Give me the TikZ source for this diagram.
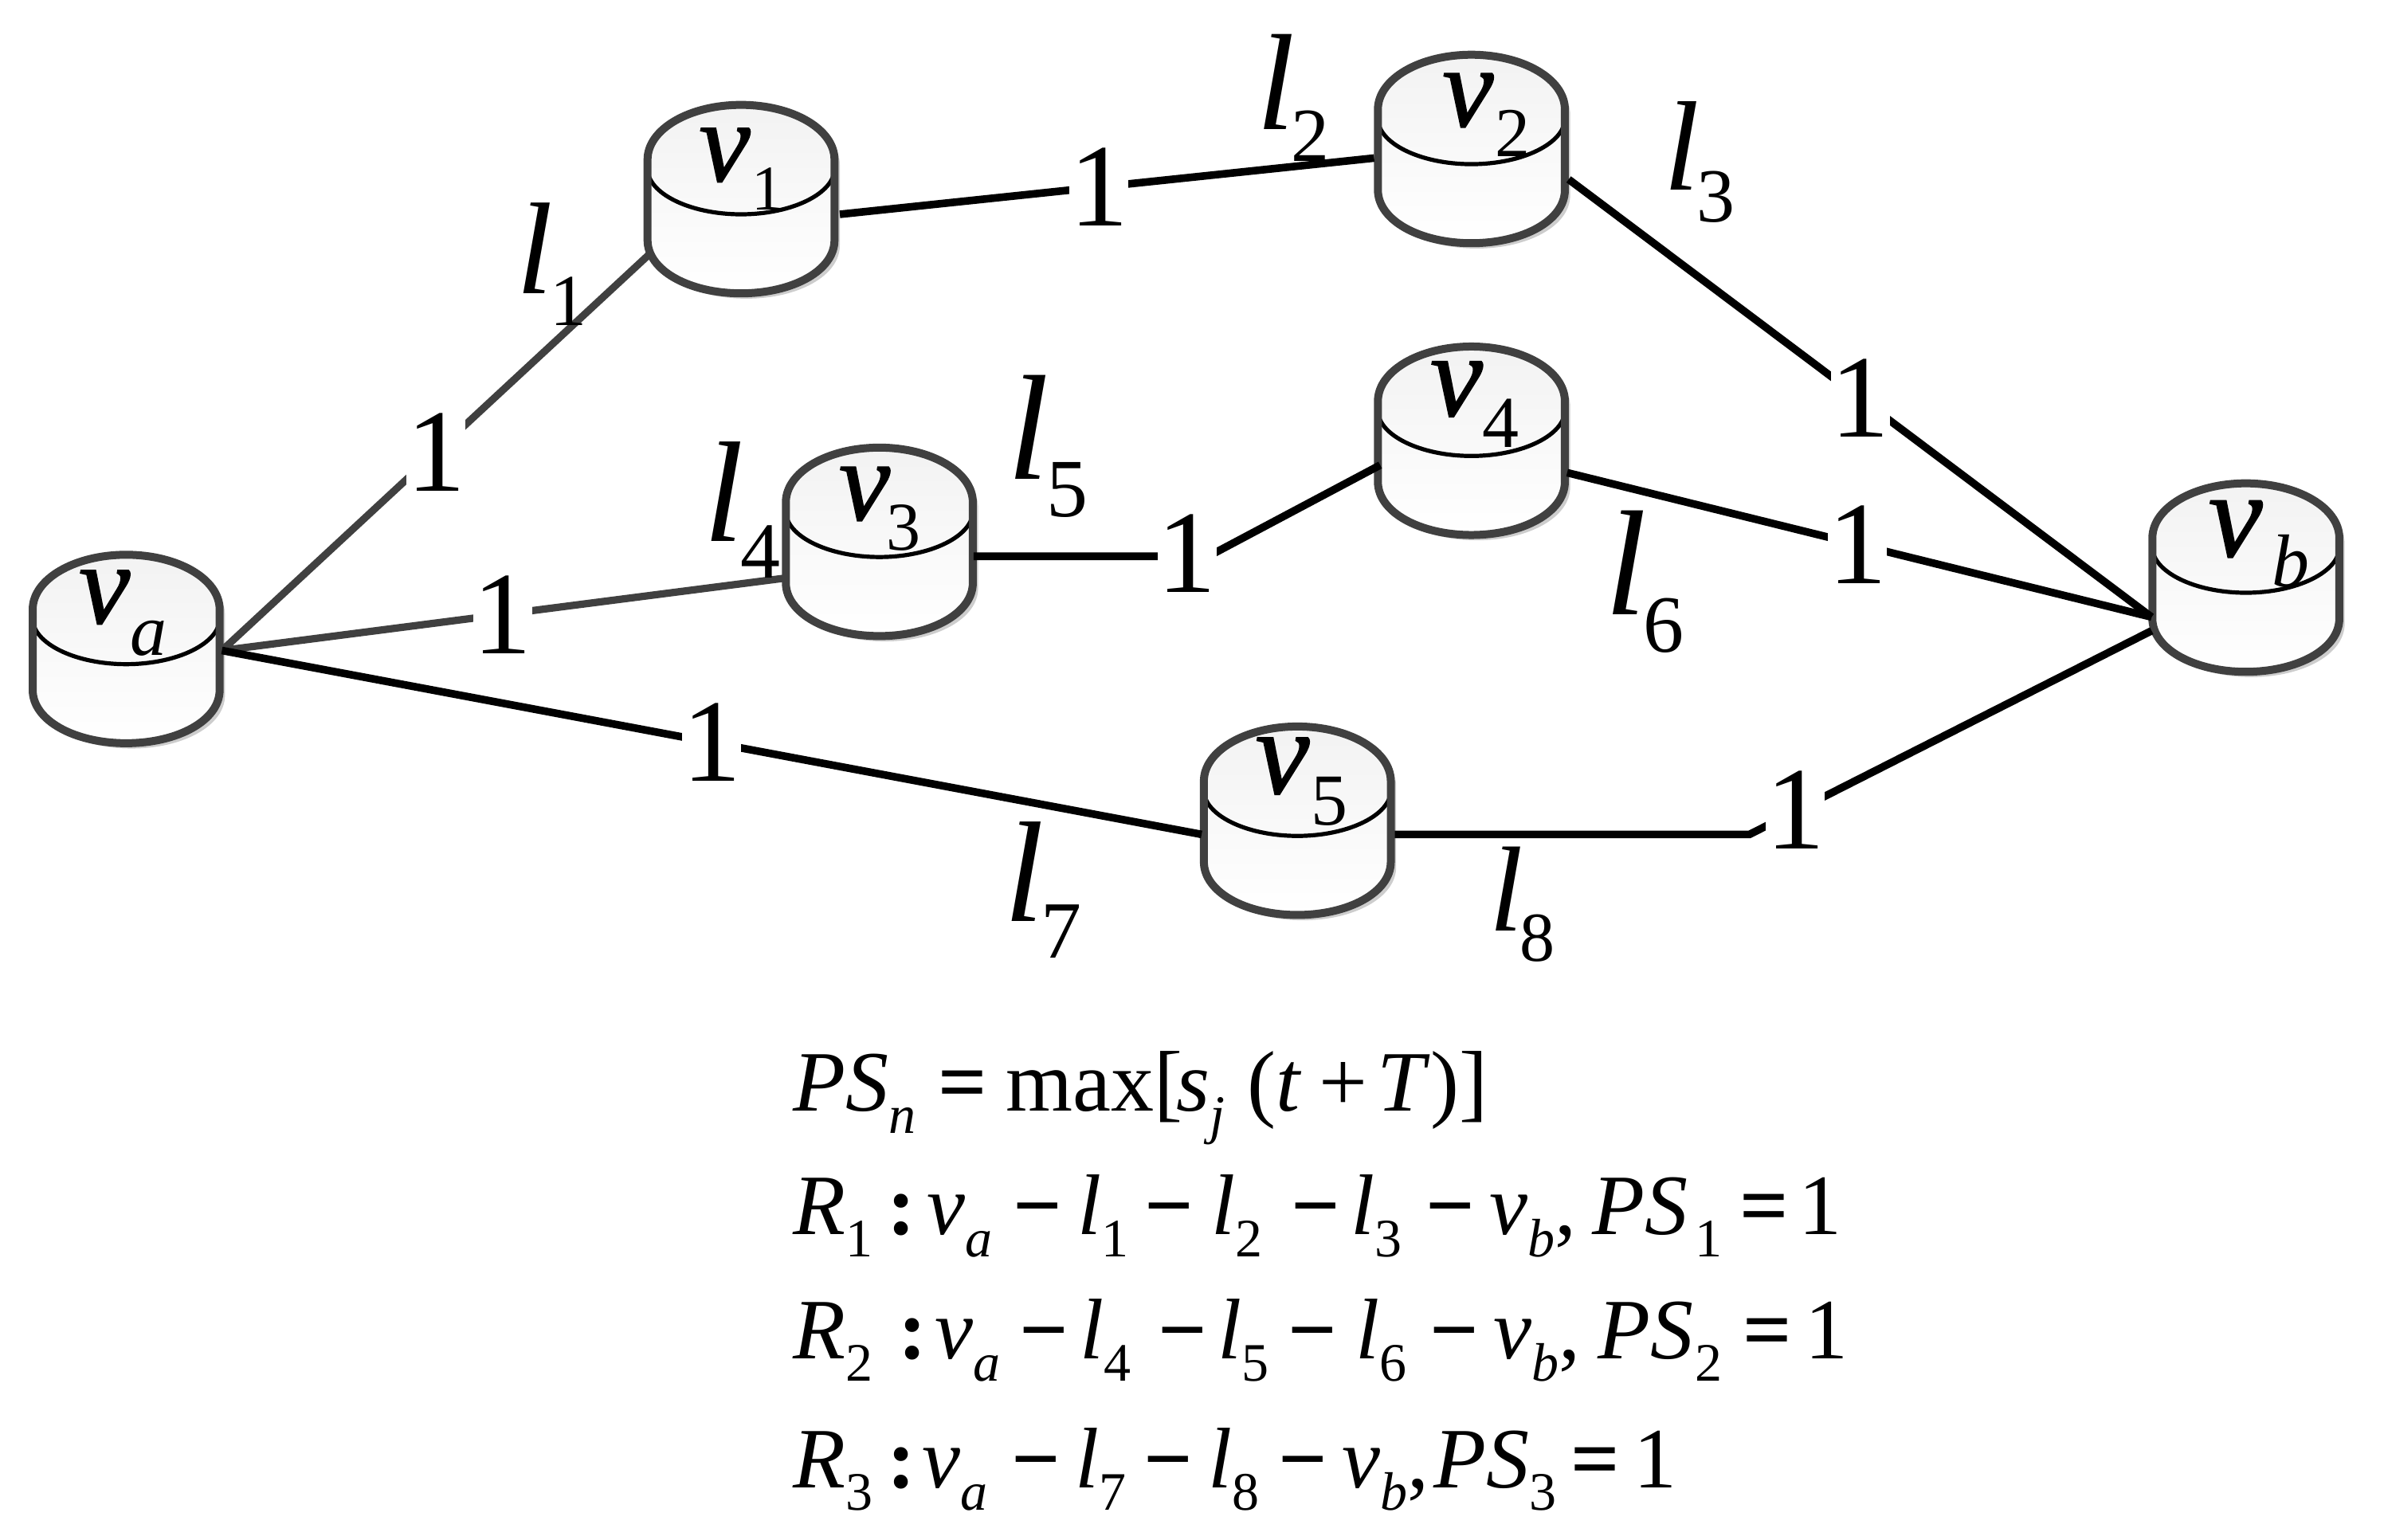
\documentclass[tikz,border=0pt]{standalone}
\usepackage{fontspec}
\setmainfont{Liberation Serif}
\newfontfamily\heavyit[FakeBold=1.2]{Liberation Serif Italic}
\usetikzlibrary{calc}
\definecolor{edgegray}{HTML}{404040}
\definecolor{shadowgray}{HTML}{CDCDCD}
\tikzset{
  cylbox/.style={rectangle,minimum width=58.7pt,minimum height=58.7pt,inner sep=0pt,draw=none,fill=none},
  link/.style={line width=2.4pt,draw=black,line join=miter},
  graylink/.style={link,draw=edgegray,line width=2.3pt},
  one/.style={fill=white,inner sep=0pt,minimum width=12pt,minimum height=26pt,font=\fontsize{37}{37}\selectfont},
  lab/.style={anchor=base west,inner sep=0pt,outer sep=0pt},
  eqline/.style={anchor=base west,inner sep=0pt,outer sep=0pt,font=\fontsize{27}{30}\selectfont}
}
\newcommand\cylpath{(-61.5,-26) .. controls (-61.5,-46) and (-34,-62) .. (0,-62) .. controls (34,-62) and (61.5,-46) .. (61.5,-26) -- (61.5,27) .. controls (61.5,47) and (34,62) .. (0,62) .. controls (-34,62) and (-61.5,47) .. (-61.5,27) -- cycle}
\newcommand\cyl[3]{%
  \fill[shadowgray,shift={(#2+3.5,#3+3.5)}] \cylpath;
  \begin{scope}[shift={(#2,#3)}]
    \shade[top color=black!5,bottom color=white] \cylpath;
    \draw[black,line width=1.3pt] (-61.5,-20) .. controls (-61.5,-4) and (-34,10) .. (0,10) .. controls (34,10) and (61.5,-4) .. (61.5,-20);
    \draw[edgegray,line width=2.5pt] \cylpath;
  \end{scope}
  \node[cylbox] (#1) at (#2,#3) {};
}
% name, x, y of base, letter size, letter, sub dx, sub drop, sub size, subscript
\newcommand\symb[9]{%
  \node[lab] (#1) at (#2,#3) {\fontsize{#4}{#4}\selectfont{\heavyit #5}\hspace{#6pt}\raisebox{-#7pt}{\fontsize{#8}{#8}\selectfont #9}};
}
\newcommand\syml[9]{%
  \node[lab] (#1) at (#2,#3) {\fontsize{#4}{#4}\selectfont\textit{#5}\hspace{#6pt}\raisebox{-#7pt}{\fontsize{#8}{#8}\selectfont #9}};
}
\newcommand\dn[1]{\raisebox{-7pt}{\fontsize{17}{17}\selectfont #1}}
\newcommand\gp[1]{\hspace{#1pt}}
\newcommand\mn{\textbf{−}}
\newcommand\eqs{\textbf{=}}
\newcommand\cln{\textbf{:}}
\begin{document}
\begin{tikzpicture}[x=0.477pt,y=-0.477pt]
\useasboundingbox (0,0) rectangle (1568.4,1012.8);
\cyl{va}{83}{427}
\cyl{v1}{487.5}{131}
\cyl{v2}{968}{98}
\cyl{v3}{578.5}{356.5}
\cyl{v4}{968}{290}
\cyl{v5}{853.5}{540}
\cyl{vb}{1477.5}{380}
\coordinate (c34) at (795,366);
\coordinate (c58) at (1151,549);
\draw[graylink] ([shift={(63,1)}]va.center) -- node[one,pos=.5] (e1) {1} ([shift={(-60,36)}]v1.center);
\draw[graylink] ([shift={(63,1)}]va.center) -- node[one,pos=.5] (e4) {1} ([shift={(-63,24)}]v3.center);
\draw[link] ([shift={(63,1)}]va.center) -- node[one,pos=.5] (e7) {1} ([shift={(-63,9)}]v5.center);
\draw[link] ([shift={(65,10)}]v1.center) -- node[one,pos=.485] (e2) {1} ([shift={(-64,6)}]v2.center);
\draw[link] ([shift={(64,20)}]v2.center) -- node[one,pos=.5] (e3) {1} ([shift={(-62,26)}]vb.center);
\draw[link] ([shift={(63,21)}]v4.center) -- node[one,pos=.497] (e6) {1} ([shift={(-62,26)}]vb.center);
\draw[link] ([shift={(62,9.5)}]v3.center) -- (c34) -- ([shift={(-60,16)}]v4.center);
\draw[link] ([shift={(64,9)}]v5.center) -- (c58) -- ([shift={(-62,35)}]vb.center);
\node[one] (e5) at (781,364) {1};
\node[one] (e8) at (1181,533) {1};
\symb{tva}{52}{410}{36}{v}{0}{10}{23}{\textit{a}}
\symb{tv1}{460}{119}{36}{v}{0.4}{9}{20}{1}
\symb{tv2}{949}{83}{36}{v}{0.5}{9.5}{22}{2}
\symb{tv3}{552}{342}{36}{v}{-1}{9.5}{21.5}{3}
\symb{tv4}{941}{273.5}{37}{v}{0}{10}{23}{4}
\symb{tv5}{826}{522}{38}{v}{0.5}{10}{23}{5}
\symb{tvb}{1453}{366}{38}{v}{3}{9.5}{23.5}{\textit{b}}
\syml{tl1}{340}{193}{41}{l}{-1}{10}{23}{1}
\syml{tl2}{827}{85}{43}{l}{-1.3}{10}{24}{2}
\syml{tl3}{1095}{125}{40}{l}{-1}{10}{24}{3}
\syml{tl4}{463}{356}{45}{l}{-1}{11.5}{25}{4}
\syml{tl5}{663}{315.5}{47}{l}{-0.8}{11.7}{26}{5}
\syml{tl6}{1056}{404.6}{47}{l}{-1}{11.7}{25.5}{6}
\syml{tl7}{661}{606}{45}{l}{-1}{11.5}{25.5}{7}
\syml{tl8}{980}{612.7}{38}{l}{-1}{9.5}{22}{8}
\node[eqline] (eq0) at (522,731) {\textit{PS}\dn{\textit{n}}\gp{2.4}\,\eqs\gp{1.5}\,max[\gp{-2}\textit{s}\dn{\textit{j}}\gp{7}(\textit{t}\gp{1}\,+\,\gp{-1.5}\textit{T})]};
\node[eqline] (eq1) at (522,812) {\textit{R}\dn{1}\,\cln\gp{-1}\,\textit{v}\dn{\textit{a}}\gp{2}\,\mn\gp{.4}\,\textit{l}\dn{1}\gp{.5}\,\mn\gp{1}\,\textit{l}\dn{2}\gp{4.5}\,\mn\gp{-1}\,\textit{l}\dn{3}\gp{3}\,\mn\,\textit{v}\dn{\textit{b}},\gp{.5}\,\textit{PS}\gp{2.4}\dn{1}\gp{1}\,\eqs\gp{-1.5}\,1};
\node[eqline] (eq2) at (522,894) {\textit{R}\dn{2}\gp{3.5}\,\cln\gp{-2}\,\textit{v}\dn{\textit{a}}\gp{1.5}\,\mn\gp{-1}\,\textit{l}\dn{4}\gp{4}\,\mn\gp{-1}\,\textit{l}\dn{5}\gp{1.4}\,\mn\gp{1.5}\,\textit{l}\dn{6}\gp{2.6}\,\mn\gp{.3}\,\textit{v}\dn{\textit{b}},\gp{1}\,\textit{PS}\gp{.5}\dn{2}\gp{2}\,\eqs\gp{-.5}\,1};
\node[eqline] (eq3) at (522,979) {\textit{R}\dn{3}\,\cln\gp{-2.5}\,\textit{v}\dn{\textit{a}}\gp{3}\,\mn\,\textit{l}\dn{7}\gp{1}\,\mn\gp{.5}\,\textit{l}\dn{8}\gp{1.5}\,\mn\,\textit{v}\dn{\textit{b}},\gp{-3}\,\textit{PS}\dn{3}\,\eqs\,1};
\end{tikzpicture}
\end{document}
